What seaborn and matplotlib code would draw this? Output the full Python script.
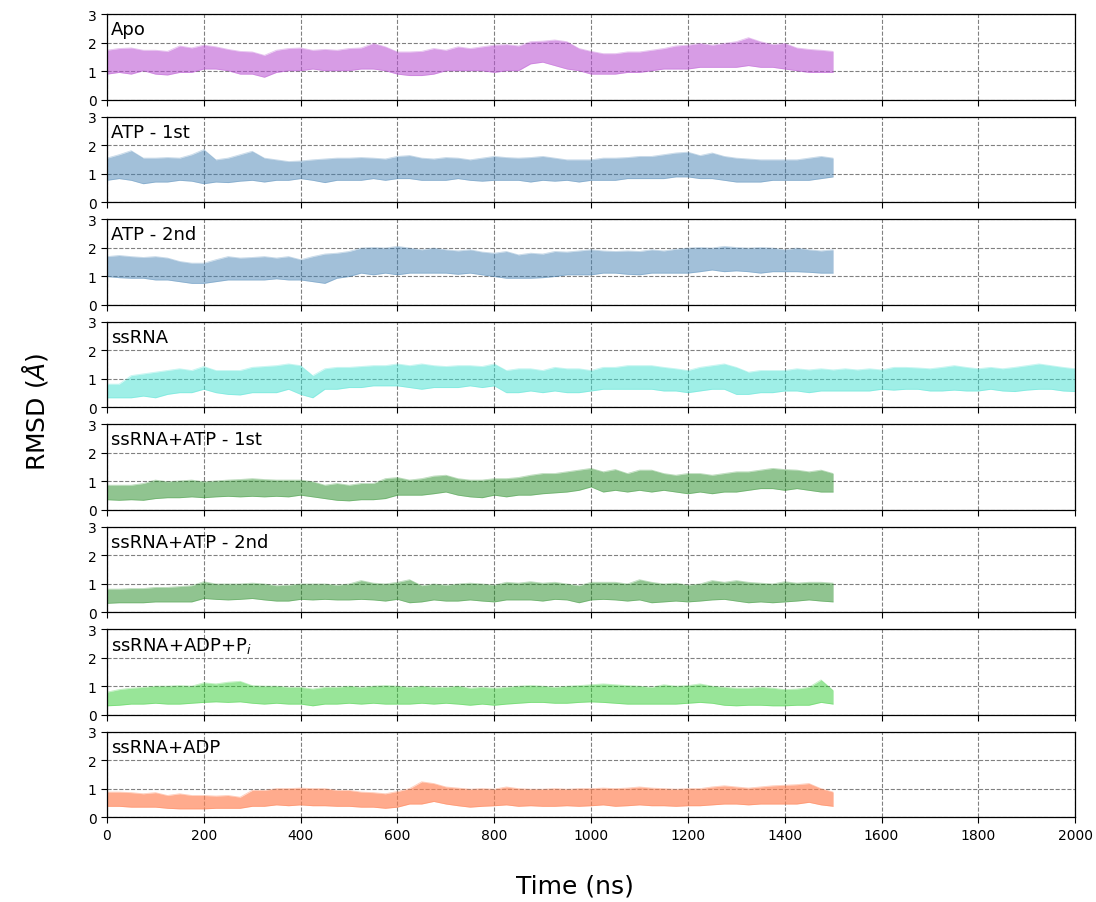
import numpy as np
import matplotlib
matplotlib.use("Agg")
import matplotlib.pyplot as plt
import seaborn as sns

# Sampling grid (ns) for the envelopes
time_1500 = np.arange(0, 1501, 25)
time_2000 = np.arange(0, 2001, 25)

labels = ['Apo', 'ATP - 1st', 'ATP - 2nd', 'ssRNA', 'ssRNA+ATP - 1st',
          'ssRNA+ATP - 2nd', 'ssRNA+ADP+P$_i$', 'ssRNA+ADP']

# upper / lower edge of each RMSD trace (Angstrom)
apo_hi = [1.74, 1.80, 1.82, 1.74, 1.74, 1.70, 1.89, 1.82, 1.92, 1.86, 1.77, 1.70, 1.68, 1.56, 1.74, 1.80,
          1.82, 1.74, 1.77, 1.74, 1.80, 1.82, 1.98, 1.86, 1.68, 1.68, 1.70, 1.80, 1.74, 1.86, 1.80, 1.86,
          1.92, 1.94, 1.89, 2.04, 2.06, 2.10, 2.04, 1.80, 1.70, 1.62, 1.62, 1.68, 1.68, 1.74, 1.80, 1.89,
          1.92, 1.98, 1.92, 1.98, 2.04, 2.18, 2.04, 1.94, 1.98, 1.82, 1.77, 1.74, 1.70]
apo_lo = [0.90, 0.96, 0.90, 1.02, 0.90, 0.87, 0.96, 0.96, 1.08, 1.08, 1.02, 0.90, 0.90, 0.79, 0.96, 1.02,
          1.02, 1.08, 1.02, 1.02, 1.02, 1.08, 1.08, 1.02, 0.90, 0.85, 0.85, 0.90, 1.02, 1.02, 1.02, 1.02,
          0.96, 1.02, 1.02, 1.26, 1.32, 1.20, 1.08, 1.02, 0.90, 0.90, 0.90, 0.96, 0.96, 1.02, 1.08, 1.08,
          1.08, 1.14, 1.14, 1.14, 1.14, 1.20, 1.14, 1.14, 1.08, 1.02, 0.96, 0.96, 0.96]

atp1_hi = [1.55, 1.67, 1.81, 1.55, 1.55, 1.57, 1.55, 1.67, 1.85, 1.49, 1.55, 1.67, 1.79, 1.55, 1.49, 1.43,
           1.45, 1.49, 1.52, 1.55, 1.55, 1.57, 1.55, 1.52, 1.61, 1.64, 1.55, 1.52, 1.57, 1.55, 1.49, 1.55,
           1.61, 1.57, 1.55, 1.57, 1.61, 1.55, 1.49, 1.49, 1.49, 1.55, 1.55, 1.57, 1.61, 1.61, 1.67, 1.73,
           1.76, 1.64, 1.73, 1.61, 1.55, 1.52, 1.49, 1.49, 1.49, 1.49, 1.55, 1.61, 1.55]
atp1_lo = [0.77, 0.83, 0.77, 0.65, 0.71, 0.71, 0.77, 0.74, 0.65, 0.71, 0.69, 0.74, 0.77, 0.71, 0.77, 0.77,
           0.83, 0.77, 0.69, 0.77, 0.77, 0.77, 0.83, 0.77, 0.83, 0.83, 0.77, 0.77, 0.77, 0.83, 0.77, 0.74,
           0.77, 0.77, 0.77, 0.71, 0.77, 0.74, 0.77, 0.71, 0.77, 0.77, 0.77, 0.83, 0.83, 0.83, 0.83, 0.89,
           0.89, 0.83, 0.83, 0.77, 0.71, 0.71, 0.71, 0.77, 0.77, 0.77, 0.77, 0.83, 0.89]

atp2_hi = [1.69, 1.73, 1.69, 1.66, 1.69, 1.64, 1.52, 1.46, 1.46, 1.58, 1.69, 1.64, 1.66, 1.69, 1.64, 1.69,
           1.58, 1.69, 1.78, 1.81, 1.87, 1.99, 2.01, 1.99, 2.05, 1.99, 1.93, 1.99, 1.93, 1.89, 1.93, 1.85,
           1.81, 1.87, 1.75, 1.81, 1.78, 1.87, 1.85, 1.89, 1.93, 1.89, 1.87, 1.89, 1.87, 1.93, 1.89, 1.95,
           1.99, 2.01, 1.99, 2.05, 2.01, 1.99, 2.01, 1.99, 1.93, 1.99, 1.93, 1.89, 1.93]
atp2_lo = [0.99, 0.95, 0.93, 0.93, 0.87, 0.87, 0.81, 0.75, 0.75, 0.81, 0.87, 0.87, 0.87, 0.87, 0.91, 0.87,
           0.87, 0.81, 0.75, 0.93, 0.99, 1.11, 1.05, 1.11, 1.05, 1.11, 1.11, 1.11, 1.11, 1.07, 1.11, 1.05,
           0.99, 0.93, 0.93, 0.93, 0.95, 0.99, 1.05, 1.05, 1.05, 1.11, 1.11, 1.07, 1.05, 1.11, 1.11, 1.11,
           1.11, 1.16, 1.22, 1.16, 1.19, 1.16, 1.11, 1.16, 1.16, 1.16, 1.14, 1.11, 1.11]

ssrna_hi = [0.81, 0.81, 1.11, 1.17, 1.23, 1.29, 1.35, 1.29, 1.43, 1.29, 1.29, 1.29, 1.40, 1.43, 1.46, 1.52,
            1.46, 1.11, 1.35, 1.40, 1.40, 1.43, 1.46, 1.46, 1.52, 1.46, 1.52, 1.46, 1.43, 1.46, 1.46, 1.43,
            1.52, 1.29, 1.35, 1.35, 1.29, 1.40, 1.35, 1.35, 1.29, 1.40, 1.40, 1.46, 1.46, 1.46, 1.40, 1.35,
            1.29, 1.40, 1.46, 1.52, 1.40, 1.23, 1.29, 1.29, 1.29, 1.35, 1.31, 1.35, 1.31, 1.35, 1.31, 1.35,
            1.31, 1.40, 1.40, 1.38, 1.35, 1.40, 1.46, 1.40, 1.35, 1.40, 1.35, 1.40, 1.46, 1.52, 1.46, 1.40,
            1.35]
ssrna_lo = [0.33, 0.33, 0.33, 0.39, 0.33, 0.45, 0.51, 0.51, 0.63, 0.51, 0.45, 0.43, 0.51, 0.51, 0.51, 0.63,
            0.45, 0.33, 0.63, 0.63, 0.69, 0.69, 0.75, 0.75, 0.75, 0.69, 0.63, 0.69, 0.69, 0.69, 0.75, 0.69,
            0.75, 0.51, 0.51, 0.57, 0.51, 0.57, 0.51, 0.51, 0.57, 0.63, 0.63, 0.63, 0.63, 0.63, 0.57, 0.57,
            0.51, 0.57, 0.63, 0.63, 0.45, 0.45, 0.51, 0.51, 0.57, 0.57, 0.51, 0.57, 0.57, 0.57, 0.57, 0.57,
            0.63, 0.60, 0.63, 0.63, 0.57, 0.57, 0.60, 0.57, 0.57, 0.63, 0.57, 0.55, 0.60, 0.63, 0.63, 0.57,
            0.55]

rna_atp1_hi = [0.86, 0.86, 0.86, 0.92, 1.04, 0.98, 1.01, 1.04, 0.98, 1.01, 1.04, 1.06, 1.09, 1.06, 1.04, 1.04,
               1.04, 0.98, 0.86, 0.92, 0.86, 0.92, 0.92, 1.09, 1.13, 1.04, 1.09, 1.18, 1.21, 1.09, 1.04, 1.04,
               1.09, 1.09, 1.13, 1.21, 1.27, 1.27, 1.33, 1.39, 1.45, 1.33, 1.41, 1.27, 1.39, 1.39, 1.27, 1.21,
               1.27, 1.27, 1.21, 1.27, 1.33, 1.33, 1.39, 1.45, 1.41, 1.39, 1.33, 1.39, 1.27]
rna_atp1_lo = [0.35, 0.33, 0.35, 0.33, 0.39, 0.42, 0.42, 0.45, 0.42, 0.45, 0.47, 0.45, 0.47, 0.45, 0.47, 0.45,
               0.51, 0.45, 0.39, 0.33, 0.31, 0.35, 0.35, 0.39, 0.51, 0.51, 0.51, 0.56, 0.62, 0.51, 0.45, 0.42,
               0.51, 0.45, 0.51, 0.51, 0.56, 0.59, 0.62, 0.68, 0.80, 0.62, 0.68, 0.62, 0.68, 0.62, 0.68, 0.62,
               0.56, 0.62, 0.56, 0.62, 0.62, 0.68, 0.74, 0.74, 0.68, 0.74, 0.68, 0.62, 0.62]

rna_atp2_hi = [0.81, 0.81, 0.83, 0.83, 0.87, 0.87, 0.90, 0.93, 1.07, 0.99, 0.99, 0.99, 1.02, 0.99, 0.93, 0.95,
               0.99, 0.99, 0.99, 0.95, 0.99, 1.11, 1.02, 0.99, 1.05, 1.14, 0.93, 0.99, 0.95, 0.99, 1.02, 0.99,
               0.95, 1.05, 1.02, 1.07, 1.02, 1.05, 0.99, 0.93, 1.05, 1.05, 1.05, 0.99, 1.14, 1.05, 0.99, 1.02,
               0.95, 0.99, 1.11, 1.05, 1.11, 1.05, 1.02, 0.99, 1.07, 1.02, 1.05, 1.05, 1.02]
rna_atp2_lo = [0.31, 0.33, 0.33, 0.33, 0.36, 0.36, 0.36, 0.36, 0.48, 0.45, 0.43, 0.45, 0.48, 0.43, 0.39, 0.39,
               0.45, 0.43, 0.45, 0.43, 0.43, 0.45, 0.43, 0.39, 0.45, 0.33, 0.36, 0.43, 0.39, 0.39, 0.43, 0.39,
               0.36, 0.43, 0.43, 0.43, 0.39, 0.45, 0.43, 0.33, 0.43, 0.45, 0.43, 0.39, 0.43, 0.33, 0.36, 0.39,
               0.36, 0.39, 0.43, 0.45, 0.39, 0.33, 0.36, 0.33, 0.36, 0.39, 0.43, 0.39, 0.36]

rna_adp_pi_hi = [0.79, 0.88, 0.93, 0.96, 1.00, 1.00, 1.02, 1.00, 1.12, 1.08, 1.14, 1.17, 1.02, 1.00, 1.00, 0.96,
                 0.96, 0.90, 0.96, 0.96, 1.00, 0.96, 1.00, 1.02, 1.00, 0.96, 1.00, 0.96, 0.96, 1.00, 0.93, 0.96,
                 0.93, 0.96, 1.00, 1.02, 1.00, 0.96, 1.00, 1.02, 1.05, 1.08, 1.05, 1.02, 1.00, 0.96, 1.05, 1.00,
                 1.02, 1.08, 1.00, 0.96, 0.93, 0.93, 0.96, 0.93, 0.88, 0.90, 0.96, 1.22, 0.85]
rna_adp_pi_lo = [0.31, 0.33, 0.37, 0.37, 0.40, 0.37, 0.37, 0.40, 0.43, 0.45, 0.43, 0.45, 0.40, 0.37, 0.40, 0.37,
                 0.37, 0.31, 0.37, 0.37, 0.40, 0.37, 0.40, 0.37, 0.37, 0.37, 0.40, 0.37, 0.40, 0.37, 0.33, 0.37,
                 0.33, 0.37, 0.40, 0.43, 0.43, 0.40, 0.40, 0.43, 0.45, 0.43, 0.40, 0.37, 0.37, 0.37, 0.37, 0.37,
                 0.40, 0.43, 0.40, 0.33, 0.31, 0.33, 0.33, 0.31, 0.31, 0.33, 0.33, 0.43, 0.37]

rna_adp_hi = [0.88, 0.88, 0.86, 0.82, 0.86, 0.76, 0.82, 0.76, 0.76, 0.74, 0.76, 0.70, 0.94, 0.94, 1.00, 1.00,
              1.02, 1.00, 1.00, 0.94, 0.94, 0.88, 0.86, 0.82, 0.90, 1.00, 1.24, 1.18, 1.06, 1.02, 0.98, 1.00,
              0.98, 1.06, 1.00, 0.98, 0.98, 1.00, 0.98, 1.00, 1.00, 1.02, 1.00, 1.02, 1.06, 1.02, 1.00, 0.98,
              1.00, 1.00, 1.06, 1.10, 1.06, 1.02, 1.06, 1.10, 1.12, 1.14, 1.18, 1.00, 0.88]
rna_adp_lo = [0.38, 0.38, 0.35, 0.35, 0.35, 0.31, 0.29, 0.29, 0.29, 0.31, 0.31, 0.31, 0.38, 0.38, 0.43, 0.40,
              0.43, 0.40, 0.40, 0.38, 0.38, 0.35, 0.35, 0.31, 0.35, 0.46, 0.46, 0.55, 0.46, 0.40, 0.35, 0.38,
              0.40, 0.43, 0.38, 0.40, 0.38, 0.38, 0.40, 0.38, 0.40, 0.43, 0.38, 0.40, 0.43, 0.40, 0.40, 0.38,
              0.40, 0.40, 0.43, 0.46, 0.46, 0.43, 0.46, 0.46, 0.46, 0.46, 0.52, 0.43, 0.38]

colors = ['mediumorchid', 'steelblue', 'steelblue', 'turquoise',
          'forestgreen', 'forestgreen', 'limegreen', 'coral']
alphas = [0.58, 0.5, 0.5, 0.5, 0.5, 0.5, 0.5, 0.65]

series = [(time_1500, apo_hi, apo_lo), (time_1500, atp1_hi, atp1_lo),
          (time_1500, atp2_hi, atp2_lo), (time_2000, ssrna_hi, ssrna_lo),
          (time_1500, rna_atp1_hi, rna_atp1_lo), (time_1500, rna_atp2_hi, rna_atp2_lo),
          (time_1500, rna_adp_pi_hi, rna_adp_pi_lo), (time_1500, rna_adp_hi, rna_adp_lo)]

sns.set_style('ticks')
plt.rcParams.update({'text.color': 'black', 'axes.labelcolor': 'black',
                     'xtick.color': 'black', 'ytick.color': 'black'})

fig, axes = plt.subplots(8, 1, figsize=(10.96, 9.03), dpi=100, sharex=True)
fig.subplots_adjust(left=0.0976, right=0.981, top=0.983, bottom=0.094, hspace=0.2)

for ax, lab, (t, hi, lo), c, a in zip(axes, labels, series, colors, alphas):
    ax.fill_between(t, lo, hi, color=c, alpha=a, linewidth=0)
    sns.lineplot(x=t, y=hi, ax=ax, color=c, alpha=a * 0.6, linewidth=0.6)
    sns.lineplot(x=t, y=lo, ax=ax, color=c, alpha=a * 0.6, linewidth=0.6)
    ax.set_xlim(0, 2000)
    ax.set_ylim(0, 3)
    ax.set_yticks([0, 1, 2, 3])
    ax.set_xticks(range(0, 2001, 200))
    ax.grid(True, linestyle='--', color='gray', linewidth=0.8)
    ax.set_axisbelow(True)
    ax.tick_params(labelsize=10, direction='out', length=4, colors='black')
    for s in ax.spines.values():
        s.set_visible(True)
        s.set_color('black')
        s.set_linewidth(0.9)
    ax.text(0.004, 0.93, lab, transform=ax.transAxes, va='top', ha='left',
            fontsize=13, color='black')

fig.text(0.032, 0.544, r'RMSD ($\AA$)', rotation=90, fontsize=18, va='center', ha='center', color='black')
fig.text(0.525, 0.018, 'Time (ns)', fontsize=18, va='center', ha='center', color='black')

plt.savefig('out.png', dpi=100)
